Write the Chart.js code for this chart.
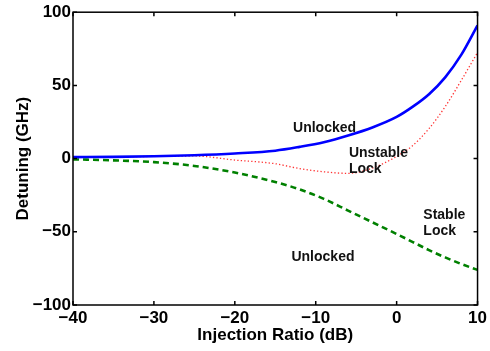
<!DOCTYPE html>
<html>
<head>
<meta charset="utf-8">
<script src="https://cdn.jsdelivr.net/npm/chart.js@4.4.0/dist/chart.umd.min.js"></script>
<style>
  html, body { margin: 0; padding: 0; background: #fff; }
</style>
</head>
<body>
<canvas id="chart" width="490" height="351"></canvas>
<script>
// injection ratio (dB) sample points, shared by the three curves
const ratioDb = [-40, -35, -30, -25, -20, -15, -12, -9, -6, -3, 0, 2, 4, 6, 8, 10];
// upper locking edge (blue, solid)
const upperEdge = [1, 1.2, 1.6, 2.3, 3.5, 5.4, 8, 11.2, 15.8, 21.3, 28.5, 35.5, 44, 55.5, 71, 91];
// unstable lock boundary (red, dotted)
const unstableEdge = [1, 1.2, 1.5, 1.8, -1, -3.5, -6.8, -9, -10.1, -6.5, 1.5, 9, 20.5, 35.5, 53.5, 72.5];
// lower locking edge (green, dashed)
const lowerEdge = [-0.5, -1.2, -2.4, -5, -9.5, -16, -21, -27.5, -35.5, -43.5, -51.5, -57, -62.5, -67.5, -72, -76];

const xTicks = [-40, -30, -20, -10, 0, 10];
const yTicks = [-100, -50, 0, 50, 100];

// region labels, placed in data units
const notes = [
  { text: "Unlocked", x: -12.8, y: 20.8 },
  { text: "Unstable", x: -5.9, y: 3.8 },
  { text: "Lock", x: -5.9, y: -7.2 },
  { text: "Stable", x: 3.3, y: -38.6 },
  { text: "Lock", x: 3.3, y: -49.3 },
  { text: "Unlocked", x: -13.0, y: -67.4 }
];

const FONT = '"Liberation Sans", Arial, Helvetica, sans-serif';

function minusFmt(v) {
  return v < 0 ? "\u2212" + Math.abs(v) : String(v);
}

function pts(ys) {
  return ratioDb.map((x, i) => ({ x: x, y: ys[i] }));
}

// box around the plot with ticks pointing inward on all four sides
const framePlugin = {
  id: "frame",
  afterDatasetsDraw(chart) {
    const { ctx, chartArea: a, scales } = chart;
    const len = 4;
    ctx.save();
    ctx.strokeStyle = "#000";
    ctx.lineWidth = 1.5;
    ctx.strokeRect(a.left, a.top, a.right - a.left, a.bottom - a.top);
    ctx.beginPath();
    xTicks.forEach(v => {
      const px = scales.x.getPixelForValue(v);
      ctx.moveTo(px, a.bottom); ctx.lineTo(px, a.bottom - len);
      ctx.moveTo(px, a.top); ctx.lineTo(px, a.top + len);
    });
    yTicks.forEach(v => {
      const py = scales.y.getPixelForValue(v);
      ctx.moveTo(a.left, py); ctx.lineTo(a.left + len, py);
      ctx.moveTo(a.right, py); ctx.lineTo(a.right - len, py);
    });
    ctx.stroke();

    ctx.fillStyle = "#111";
    ctx.font = "bold 14px " + FONT;
    ctx.textAlign = "left";
    ctx.textBaseline = "middle";
    notes.forEach(n => {
      ctx.fillText(n.text, scales.x.getPixelForValue(n.x), scales.y.getPixelForValue(n.y));
    });
    ctx.restore();
  }
};

new Chart(document.getElementById("chart").getContext("2d"), {
  type: "line",
  data: {
    datasets: [
      {
        data: pts(upperEdge),
        borderColor: "#0000ff",
        borderWidth: 2.6,
        pointRadius: 0,
        cubicInterpolationMode: "monotone"
      },
      {
        data: pts(unstableEdge),
        borderColor: "#ff3333",
        borderWidth: 1.3,
        borderDash: [1.3, 2.2],
        pointRadius: 0,
        cubicInterpolationMode: "monotone"
      },
      {
        data: pts(lowerEdge),
        borderColor: "#008000",
        borderWidth: 2.6,
        borderDash: [6, 4],
        pointRadius: 0,
        cubicInterpolationMode: "monotone"
      }
    ]
  },
  options: {
    responsive: false,
    devicePixelRatio: 1,
    animation: false,
    layout: { padding: { left: 0, top: 12, right: 12, bottom: 0 } },
    plugins: { legend: { display: false }, tooltip: { enabled: false } },
    scales: {
      x: {
        type: "linear",
        min: -40,
        max: 10,
        grid: { display: false, drawTicks: false },
        border: { display: false },
        afterBuildTicks: s => { s.ticks = xTicks.map(v => ({ value: v })); },
        afterFit: s => { s.height = 46; },
        ticks: {
          color: "#000",
          padding: 3,
          maxRotation: 0,
          font: { family: FONT, size: 17, weight: "bold" },
          callback: minusFmt
        },
        title: {
          display: true,
          text: "Injection Ratio (dB)",
          color: "#000",
          padding: { top: 0, bottom: 5 },
          font: { family: FONT, size: 17, weight: "bold" }
        }
      },
      y: {
        type: "linear",
        min: -100,
        max: 100,
        grid: { display: false, drawTicks: false },
        border: { display: false },
        afterBuildTicks: s => { s.ticks = yTicks.map(v => ({ value: v })); },
        afterFit: s => { s.width = 73; },
        ticks: {
          color: "#000",
          padding: 2,
          font: { family: FONT, size: 17, weight: "bold" },
          callback: minusFmt
        },
        title: {
          display: true,
          text: "Detuning (GHz)",
          color: "#000",
          padding: { top: 13, bottom: 0 },
          font: { family: FONT, size: 17, weight: "bold" }
        }
      }
    }
  },
  plugins: [framePlugin]
});
</script>
</body>
</html>
